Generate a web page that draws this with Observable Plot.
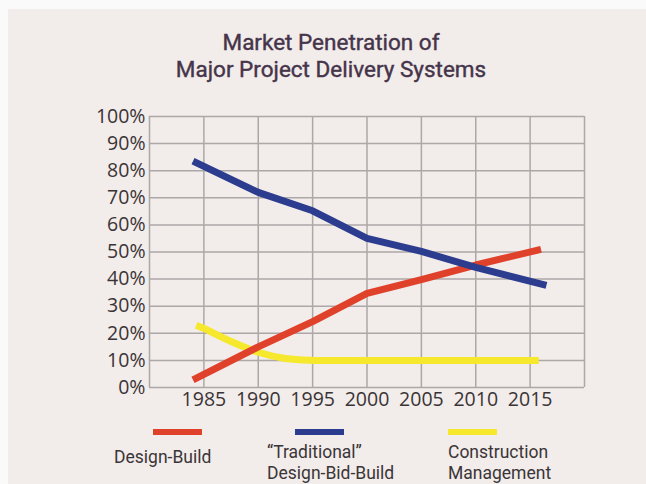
<!DOCTYPE html>
<html>
<head>
<meta charset="utf-8">
<script src="https://cdn.jsdelivr.net/npm/d3@7"></script>
<script src="https://cdn.jsdelivr.net/npm/@observablehq/plot@0.6"></script>
<style>
  html, body { margin: 0; padding: 0; background: #fbfafa; width: 646px; height: 484px; overflow: hidden; }
  #paper { position: absolute; left: 8px; top: 9px; width: 638px; height: 475px; background: #f2ecea; }
  #title { position: absolute; left: 131px; width: 400px; top: 29px; text-align: center;
           font-family: Roboto, sans-serif; font-size: 22.5px; font-weight: 400; line-height: 27px; color: #45344a;
           -webkit-text-stroke: 0.4px #45344a; }
  #chart { position: absolute; left: 0; top: 95px; }
  .leg { position: absolute; font-family: Roboto, sans-serif; font-size: 17.5px; line-height: 21px; height: 21px; color: #3a3538; white-space: nowrap; }
  .sw { position: absolute; height: 6px; width: 49px; }
</style>
</head>
<body>
<div id="paper"></div>
<div id="title">Market Penetration of<br>Major Project Delivery Systems</div>
<div id="chart"></div>
<div id="legend"></div>
<script>
// Series names and colours
const seriesNames = ["Design-Build", "\u201CTraditional\u201D\nDesign-Bid-Build", "Construction\nManagement"];
const seriesColors = ["#e0412a", "#2c3c8e", "#f6e82c"];

// Design-Build (red)
const dbYears  = [1984, 1990, 1995, 2000, 2005, 2010, 2016];
const dbValues = [2.8, 15, 24.3, 34.7, 39.8, 45.2, 51];

// "Traditional" Design-Bid-Build (blue)
const dbbYears  = [1984, 1990, 1995, 2000, 2005, 2010, 2016.5];
const dbbValues = [83.5, 72, 65.2, 55, 50.2, 44.3, 37.7];

// Construction Management (yellow)
const cmYears  = [1984.3, 1985, 1987.5, 1990, 1992.5, 1995, 2000, 2005, 2010, 2015.8];
const cmValues = [23, 21.8, 17, 13, 10.7, 10, 10, 10, 10, 10];

// Axis ticks
const xTicks = [1985, 1990, 1995, 2000, 2005, 2010, 2015];
const xGrid  = [1980, 1985, 1990, 1995, 2000, 2005, 2010, 2015, 2020];
const yTicks = [0, 10, 20, 30, 40, 50, 60, 70, 80, 90, 100];

const rows = [];
dbYears.forEach((y, i) => rows.push({series: seriesNames[0], year: y, value: dbValues[i]}));
dbbYears.forEach((y, i) => rows.push({series: seriesNames[1], year: y, value: dbbValues[i]}));
const cmRows = cmYears.map((y, i) => ({series: seriesNames[2], year: y, value: cmValues[i]}));

const gridColor = "#aca8a7";

const plot = Plot.plot({
  width: 646,
  height: 320,
  marginLeft: 149,
  marginRight: 62,
  marginTop: 21,
  marginBottom: 28,
  style: {background: "transparent", fontFamily: "\"Open Sans\", sans-serif", fontSize: "19.5px", color: "#3a3436"},
  x: {domain: [1980, 2020], label: null},
  y: {domain: [0, 100], label: null},
  color: {domain: seriesNames, range: seriesColors},
  marks: [
    Plot.gridX(xGrid, {stroke: gridColor, strokeOpacity: 1, strokeWidth: 1.5}),
    Plot.gridY(yTicks, {stroke: gridColor, strokeOpacity: 1, strokeWidth: 1.5}),
    Plot.line(cmRows, {x: "year", y: "value", stroke: "series", strokeWidth: 7, curve: "catmull-rom", strokeLinecap: "butt"}),
    Plot.line(rows, {x: "year", y: "value", z: "series", stroke: "series", strokeWidth: 7, curve: "linear", strokeLinejoin: "round", strokeLinecap: "butt"}),
    Plot.axisX({ticks: xTicks, tickFormat: d => String(d), tickSize: 0, tickPadding: 5, label: null}),
    Plot.axisY({ticks: yTicks, tickFormat: d => d + "%", tickSize: 0, tickPadding: 4, label: null})
  ]
});
document.getElementById("chart").appendChild(plot);

// Legend
const legSwatchX = [153, 295, 448];
const legTextX = [114, 267, 448];
const legTextY = [446.5, 441.5, 441.5];
const legend = document.getElementById("legend");
seriesNames.forEach((name, i) => {
  const sw = document.createElement("div");
  sw.className = "sw";
  sw.style.left = legSwatchX[i] + "px";
  sw.style.top = "429px";
  sw.style.background = seriesColors[i];
  legend.appendChild(sw);
  name.split("\n").forEach((line, j) => {
    const t = document.createElement("div");
    t.className = "leg";
    t.style.left = legTextX[i] + "px";
    t.style.top = (legTextY[i] + j * 21) + "px";
    t.textContent = line;
    legend.appendChild(t);
  });
});
</script>
</body>
</html>
